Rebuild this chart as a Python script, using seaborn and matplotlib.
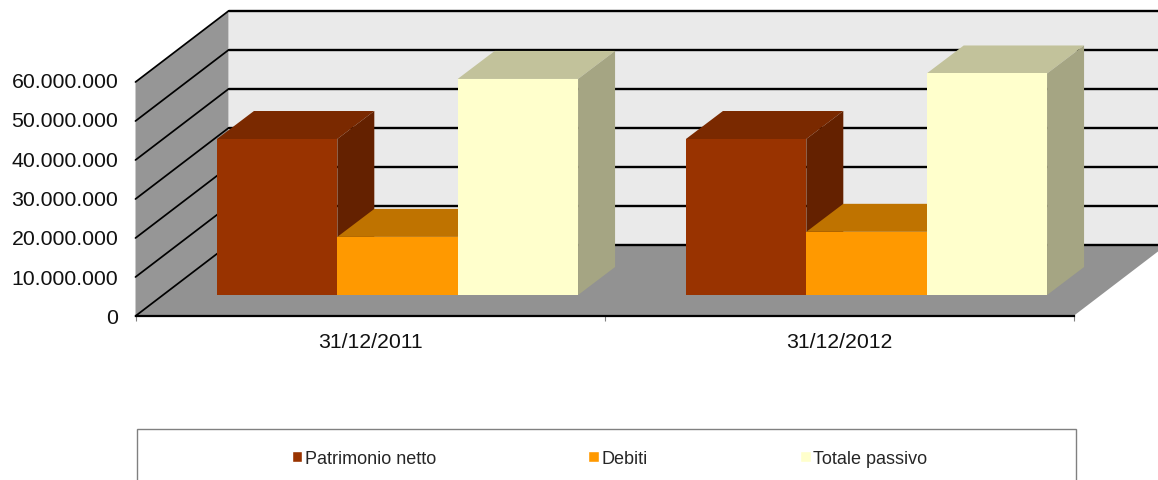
import matplotlib
matplotlib.use("Agg")
import matplotlib.pyplot as plt
from matplotlib.patches import Polygon, Rectangle
from matplotlib.ticker import FuncFormatter
from matplotlib.transforms import Affine2D
import pandas as pd
import seaborn as sns

# ---- data ----
dates = ["31/12/2011", "31/12/2012"]
series_names = ["Patrimonio netto", "Debiti", "Totale passivo"]
patrimonio = [40000000, 40000000]
debiti = [14900000, 16200000]
totale = [55400000, 56800000]
y_ticks = [0, 10000000, 20000000, 30000000, 40000000, 50000000, 60000000]

# ---- styles ----
front_cols = ["#993300", "#FF9900", "#FFFFCC"]
top_cols = ["#7A2900", "#BF7300", "#C2C29B"]
side_cols = ["#642100", "#A66300", "#A5A583"]
W, H = 1158, 481
L, R, T, B = 135.5, 1073.5, 83, 317      # front plane, pixels from top-left

sns.set_theme(style="white", rc={"font.family": ["Liberation Sans", "DejaVu Sans"]})
plt.rcParams["font.family"] = ["Liberation Sans", "DejaVu Sans"]

df = pd.DataFrame({
    "date": dates * 3,
    "serie": [s for s in series_names for _ in dates],
    "valore": patrimonio + debiti + totale,
})

fig = plt.figure(figsize=(W / 100, H / 100), dpi=100, facecolor="white")
ax = fig.add_axes([L / W, 1 - B / H, (R - L) / W, (B - T) / H])
sns.barplot(data=df, x="date", y="valore", hue="serie", order=dates,
            hue_order=series_names, palette=front_cols, width=0.77, gap=0,
            saturation=1, ax=ax, zorder=10)
ax.set_xlim(-0.5, 1.5)
ax.set_ylim(y_ticks[0], y_ticks[-1])
ax.set_xlabel("")
ax.set_ylabel("")

ux = 2.0 / (R - L)                     # data units per pixel
uy = (y_ticks[-1] - y_ticks[0]) / (B - T)
wall_dx, wall_dy = 93 * ux, 71 * uy    # full chart depth
off_dx, off_dy = 27.5 * ux, 21 * uy    # bar front offset from the front plane
bar_dx, bar_dy = 37 * ux, 28 * uy      # bar depth

x0, x1 = ax.get_xlim()
y0, y1 = ax.get_ylim()


def poly(pts, color, z):
    ax.add_patch(Polygon(pts, closed=True, facecolor=color, edgecolor="none",
                         clip_on=False, zorder=z))


# walls and floor
poly([(x0, y0), (x0 + wall_dx, y0 + wall_dy), (x0 + wall_dx, y1 + wall_dy), (x0, y1)], "#969696", 1)
poly([(x0 + wall_dx, y0 + wall_dy), (x1 + wall_dx, y0 + wall_dy),
      (x1 + wall_dx, y1 + wall_dy), (x0 + wall_dx, y1 + wall_dy)], "#EAEAEA", 1)
poly([(x0, y0), (x1, y0), (x1 + wall_dx, y0 + wall_dy), (x0 + wall_dx, y0 + wall_dy)], "#929292", 2)

# gridlines along side wall and back wall
for t in y_ticks:
    ax.plot([x0, x0 + wall_dx], [t, t + wall_dy], color="black", lw=1.25,
            clip_on=False, zorder=3)
    ax.plot([x0 + wall_dx, x1 + wall_dx], [t + wall_dy, t + wall_dy], color="black", lw=1.7,
            clip_on=False, zorder=3)

# bars: shift the fronts onto the floor, add top and side faces
z = 10
for g in range(len(dates)):
    for s, cont in enumerate(ax.containers):
        r = cont.patches[g]
        r.set_x(r.get_x() + off_dx)
        r.set_y(r.get_y() + off_dy)
        r.set_clip_on(False)
        r.set_edgecolor("none")
        r.set_zorder(z + 2)
        xa, xb = r.get_x(), r.get_x() + r.get_width()
        ya, yb = r.get_y(), r.get_y() + r.get_height()
        poly([(xa, yb), (xb, yb), (xb + bar_dx, yb + bar_dy), (xa + bar_dx, yb + bar_dy)], top_cols[s], z)
        poly([(xb, ya), (xb, yb), (xb + bar_dx, yb + bar_dy), (xb + bar_dx, ya + bar_dy)], side_cols[s], z + 1)
        z += 3

# axes
sns.despine(ax=ax, left=True, top=True, right=True)
ax.spines["bottom"].set_color("black")
ax.spines["bottom"].set_linewidth(1.6)
ax.spines["bottom"].set_zorder(5)
ax.set_yticks(y_ticks)
ax.yaxis.set_major_formatter(FuncFormatter(lambda v, p: f"{int(v):,}".replace(",", ".")))
ax.tick_params(axis="y", length=0, pad=12.5, labelsize=15.3, labelcolor="#111111")
ax.tick_params(axis="x", which="major", length=0, pad=11.5, labelsize=15.3, labelcolor="#111111")
ax.set_xticks([0.5 + i - 1 for i in range(len(dates) + 1)], minor=True)
ax.tick_params(axis="x", which="minor", bottom=True, length=3.6, width=0.8, color="#808080")
for i, lab in enumerate(ax.get_yticklabels()):
    lab.set_transform(lab.get_transform() + Affine2D().translate(0, 0.3 + 0.4 * i))

# legend, entries from the bars; the frame runs off the bottom of the figure
handles, labels = ax.get_legend_handles_labels()
leg = ax.legend(handles, labels, ncol=3, frameon=False, loc="center left",
                bbox_to_anchor=(291.5 / W, 1 - 459.5 / H), bbox_transform=fig.transFigure,
                fontsize=13.0, borderpad=0, borderaxespad=0, handlelength=0.6,
                handleheight=0.6, handletextpad=0.12, columnspacing=8.45)
fig.add_artist(Rectangle((137 / W, -10 / H), 939.5 / W, (H - 429.5 + 10) / H,
                         transform=fig.transFigure, facecolor="white",
                         edgecolor="#808080", lw=1, zorder=0))
fig.savefig("out.png", dpi=100)
